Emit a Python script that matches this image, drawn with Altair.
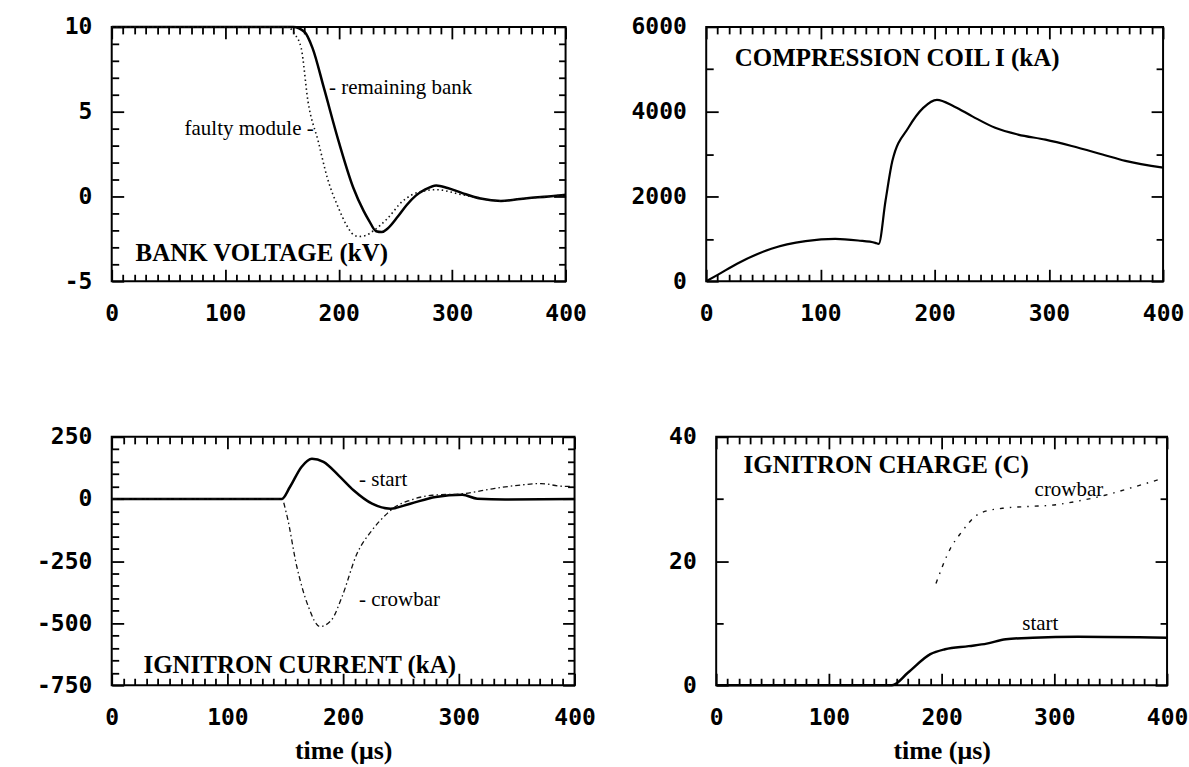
import altair as alt
import pandas as pd

# ---------------- data ----------------
x_major = [0, 100, 200, 300, 400]

# Panel 1: bank voltage (kV)
bank_remaining_t = [0, 160, 170, 177, 187, 200, 213, 222, 227, 233, 238, 243, 252, 260, 268, 276, 286, 296, 309, 325, 343, 366, 385, 400]
bank_remaining_v = [10, 10, 9.7, 8.75, 6.4, 3.25, 0.5, -0.85, -1.45, -2.05, -2.1, -1.9, -1.2, -0.5, 0.05, 0.4, 0.65, 0.5, 0.2, -0.12, -0.26, -0.1, 0.0, 0.1]
bank_faulty_t = [0, 155, 161, 167, 173, 182, 190, 200, 207, 213, 218, 224, 230, 243, 256, 273, 286, 309, 343, 366, 385, 400]
bank_faulty_v = [10, 10, 9.6, 8.75, 5.6, 3.25, 1.1, -0.7, -1.7, -2.25, -2.36, -2.3, -2.05, -1.3, -0.3, 0.3, 0.4, 0.1, -0.26, -0.1, 0.0, 0.1]

# Panel 2: compression coil current (kA)
coil_t = [0, 10, 27, 57, 87, 113, 133, 148, 151, 157, 163, 177, 190, 202, 217, 233, 253, 273, 297, 320, 347, 367, 400]
coil_i = [0, 150, 414, 766, 945, 1000, 961, 906, 880, 1900, 2840, 3620, 4090, 4280, 4125, 3890, 3620, 3460, 3340, 3190, 2990, 2840, 2680]

# Panel 3: ignitron current (kA)
ign_start_t = [0, 147, 154, 164, 173, 183, 196, 209, 225, 241, 258, 280, 303, 316, 340, 400]
ign_start_i = [0, 0, 48, 129, 162, 149, 95, 35, -19, -39, -19, 8, 17, 1, -2, 0]
ign_crow_t = [0, 147, 151, 160, 170, 180, 190, 199, 212, 225, 238, 245, 258, 277, 303, 329, 351, 371, 390, 398]
ign_crow_i = [0, 0, -59, -273, -434, -514, -487, -394, -220, -126, -59, -32, -5, 15, 21, 41, 55, 62, 51, 51]

# Panel 4: ignitron charge (C)
chg_start_t = [0, 156, 170, 190, 203, 224, 240, 257, 281, 321, 400]
chg_start_q = [0, 0, 2.0, 5.0, 5.8, 6.3, 6.7, 7.4, 7.65, 7.8, 7.65]
chg_crow_t = [195, 208, 217, 234, 254, 278, 298, 325, 345, 372, 396]
chg_crow_q = [16.4, 22.1, 24.5, 27.7, 28.5, 28.8, 29.0, 29.8, 30.6, 32.0, 33.3]

# Annotations: (text, t, value, align, kind)
ann_bank = [("- remaining bank", 191.6, 6.4, "left", "note"),
            ("faulty module -", 178, 4.0, "right", "note"),
            ("BANK VOLTAGE (kV)", 21, -3.34, "left", "title")]
ann_coil = [("COMPRESSION COIL I (kA)", 25, 5258, "left", "title")]
ann_ign = [("- start", 213.8, 75, "left", "note"),
           ("- crowbar", 213.8, -407, "left", "note"),
           ("IGNITRON CURRENT (kA)", 27.5, -668, "left", "title")]
ann_chg = [("crowbar", 312.9, 31.4, "center", "note"),
           ("start", 287.6, 9.8, "center", "note"),
           ("IGNITRON CHARGE (C)", 24.3, 35.5, "left", "title")]

# ---------------- styles ----------------
MONO = "DejaVu Sans Mono"
SERIF = "Liberation Serif"
LABEL_EXPR = "datum.value < 0 ? '-' + toString(-datum.value) : toString(datum.value)"
TICK_FS = 23
MINOR_LEN = 7
MAJOR_LEN = 12

SOLID = dict(color="black", strokeWidth=2.5, interpolate="monotone")
DOTTED = dict(color="#111111", strokeWidth=1.6, strokeDash=[1.5, 3], interpolate="monotone")
DASHDOT = dict(color="#111111", strokeWidth=1.3, strokeDash=[5, 3, 1.5, 3], interpolate="monotone")
SPARSE = dict(color="#111111", strokeWidth=1.4, strokeDash=[4, 6, 1.5, 6], interpolate="monotone")


def make_panel(series, anns, ydom, ystep, ymajor, ylabels, w, h, yext, xtitle=None):
    xs = alt.Scale(domain=[0, 400], nice=False, zero=False)
    ys = alt.Scale(domain=ydom, nice=False, zero=False)
    x_minor = [v for v in range(0, 401, 10) if v % 100 != 0]
    y_all = []
    v = ydom[0]
    while v <= ydom[1] + 1e-9:
        y_all.append(v)
        v += ystep
    y_major = [v for v in y_all if abs(v) % ymajor == 0]
    y_minor = [v for v in y_all if abs(v) % ymajor != 0]

    layers = []
    for i, (t, vals, style) in enumerate(series):
        df = pd.DataFrame({"t": t, "v": vals})
        if i == 0:
            xkw = dict(orient="bottom", values=x_major, ticks=False, tickSize=0, domain=False,
                       grid=False, labelFont=MONO, labelFontSize=TICK_FS, labelFontWeight="bold",
                       labelColor="black", labelPadding=21, labelExpr=LABEL_EXPR,
                       labelFlush=False, labelOverlap=False, minExtent=46, maxExtent=46)
            if xtitle:
                xkw.update(title=xtitle, titleFont=SERIF, titleFontSize=26,
                           titleFontWeight="bold", titleColor="black", titlePadding=6)
            else:
                xkw.update(title=None)
            xa = alt.Axis(**xkw)
            ya = alt.Axis(orient="left", values=ylabels, ticks=False, tickSize=0, domain=False,
                          grid=False, labelFont=MONO, labelFontSize=TICK_FS, labelFontWeight="bold",
                          labelColor="black", labelPadding=20, labelExpr=LABEL_EXPR,
                          labelFlush=False, labelOverlap=False, title=None,
                          minExtent=yext, maxExtent=yext)
        else:
            xa = None
            ya = None
        layers.append(
            alt.Chart(df).mark_line(**style).encode(
                x=alt.X("t:Q", scale=xs, axis=xa),
                y=alt.Y("v:Q", scale=ys, axis=ya),
            )
        )

    base_df = pd.DataFrame({"t": series[0][0], "v": series[0][1]})
    # inward ticks: bottom/left axes moved onto the top/right edges, top/right axes onto bottom/left
    for xo, yo, xv, yv, size in [
        ("bottom", "left", x_minor, y_minor, MINOR_LEN),
        ("top", "right", x_minor, y_minor, MINOR_LEN),
        ("bottom", "left", x_major, y_major, MAJOR_LEN),
        ("top", "right", x_major, y_major, MAJOR_LEN),
    ]:
        kw = dict(labels=False, domain=False, grid=False, title=None, ticks=True,
                  tickColor="black", tickWidth=1.8, tickSize=size)
        layers.append(
            alt.Chart(base_df).mark_line(opacity=0).encode(
                x=alt.X("t:Q", scale=xs, axis=alt.Axis(orient=xo, offset=-h, values=xv, **kw)),
                y=alt.Y("v:Q", scale=ys, axis=alt.Axis(orient=yo, offset=-w, values=yv, **kw)),
            )
        )

    # annotations
    groups = {}
    for text, t, val, align, kind in anns:
        groups.setdefault((align, kind), []).append({"label": text, "t": t, "v": val})
    for (align, kind), rows in groups.items():
        if kind == "title":
            mk = dict(font=SERIF, fontSize=25, fontWeight="bold")
        else:
            mk = dict(font=SERIF, fontSize=21, fontWeight="normal")
        layers.append(
            alt.Chart(pd.DataFrame(rows)).mark_text(align=align, baseline="middle", color="black", **mk).encode(
                x=alt.X("t:Q", scale=xs, axis=None),
                y=alt.Y("v:Q", scale=ys, axis=None),
                text="label:N",
            )
        )

    return alt.layer(*layers).resolve_axis(x="independent", y="independent").properties(width=w, height=h)


p1 = make_panel([(bank_remaining_t, bank_remaining_v, SOLID), (bank_faulty_t, bank_faulty_v, DOTTED)],
                ann_bank, [-5, 10], 1, 5, [-5, 0, 5, 10], 455, 255, 101)
p2 = make_panel([(coil_t, coil_i, dict(color="black", strokeWidth=2.2, interpolate="monotone"))],
                ann_coil, [0, 6000], 1000, 2000, [0, 2000, 4000, 6000], 458, 255, 100)
p3 = make_panel([(ign_start_t, ign_start_i, SOLID), (ign_crow_t, ign_crow_i, DASHDOT)],
                ann_ign, [-750, 250], 50, 250, [-750, -500, -250, 0, 250], 464, 249, 90, "time (μs)")
p4 = make_panel([(chg_start_t, chg_start_q, SOLID), (chg_crow_t, chg_crow_q, SPARSE)],
                ann_chg, [0, 40], 10, 20, [0, 20, 40], 452, 249, 100, "time (μs)")

row1 = alt.hconcat(p1, p2, spacing=18)
row2 = alt.hconcat(p3, p4, spacing=19)

chart = (
    alt.vconcat(row1, row2, spacing=97)
    .properties(padding={"left": 10, "top": 14, "right": 0, "bottom": 0}, background="white")
    .configure_view(stroke="black", strokeWidth=2)
)

chart.save("out.html", embed_options={"renderer": "svg", "actions": False})
